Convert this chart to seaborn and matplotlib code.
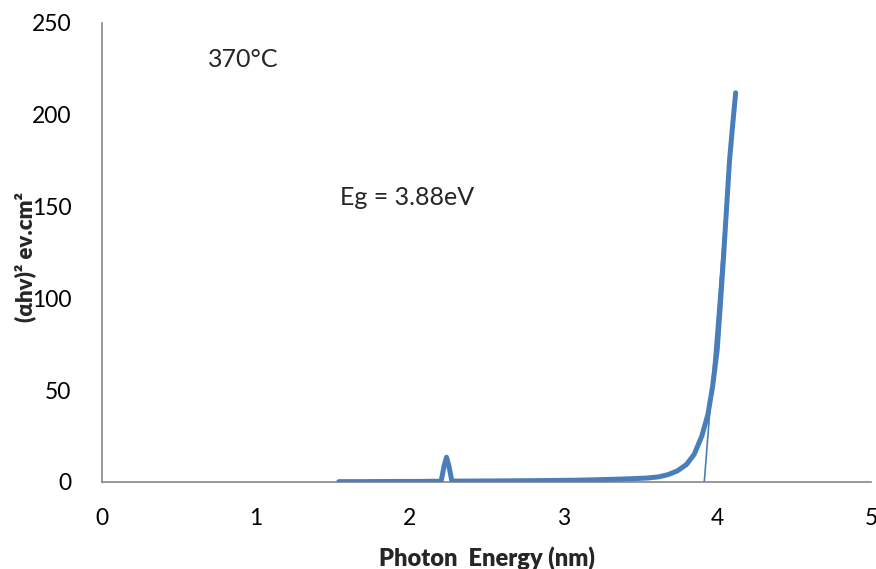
import numpy as np
import matplotlib.pyplot as plt
import pandas as pd
import seaborn as sns

# photon energy (eV) and (alpha h nu)^2
energy = [1.54, 1.70, 1.90, 2.05, 2.15, 2.205, 2.225, 2.24, 2.255, 2.275, 2.35,
          2.60, 2.90, 3.10, 3.30, 3.45, 3.55, 3.62, 3.68, 3.74, 3.80, 3.85,
          3.90, 3.94, 3.97, 4.00, 4.02, 4.04, 4.06, 4.08, 4.10, 4.12]
absorb = [0.2, 0.2, 0.3, 0.3, 0.4, 0.4, 9.0, 13.5, 9.0, 0.5, 0.5,
          0.6, 0.8, 1.0, 1.4, 1.8, 2.2, 2.8, 4.0, 6.0, 9.5, 15.0,
          25.0, 37.0, 52.0, 72.0, 96.0, 121.0, 148.0, 175.0, 194.0, 212.0]

# linear fit for the band gap
fit_x = [3.915, 4.115]
fit_y = [-1.0, 212.0]

tick_x = [0, 1, 2, 3, 4, 5]
tick_y = [0, 50, 100, 150, 200, 250]

df = pd.DataFrame({'energy': energy, 'absorb': absorb})

sns.set_style('white')
plt.rcParams['font.family'] = ['Lato', 'DejaVu Sans']

fig = plt.figure(figsize=(8.76, 5.69), dpi=100)
ax = fig.add_axes([0.1164, 0.1529, 0.8779, 0.8067])

blue = '#4A7EBB'
grey = '#868686'

ax.plot(fit_x, fit_y, color=blue, lw=1.2, zorder=2)
sns.lineplot(data=df, x='energy', y='absorb', sort=False, color=blue, lw=3.6,
             solid_capstyle='round', solid_joinstyle='round', ax=ax, zorder=3)

ax.set_xlim(0, 5)
ax.set_ylim(0, 250)
ax.set_xticks(tick_x)
ax.set_yticks(tick_y)
ax.tick_params(axis='both', direction='out', length=5, width=1, color=grey,
               labelsize=16.5, labelcolor='black')
ax.tick_params(axis='y', pad=17)
ax.tick_params(axis='x', pad=14)

for side in ['top', 'right']:
    ax.spines[side].set_visible(False)
for side in ['left', 'bottom']:
    ax.spines[side].set_color(grey)
    ax.spines[side].set_linewidth(1.2)

ax.set_xlabel('Photon  Energy (nm)', fontsize=17, fontweight='heavy', labelpad=12)
ax.set_ylabel('(\u03b1hv)\u00b2 ev.cm\u00b2', fontsize=16, fontweight='heavy')
ax.yaxis.set_label_coords(-0.086, 0.49)

ax.text(0.69, 230, '370\u00b0C', fontsize=18, va='center', ha='left')
ax.text(1.55, 155, 'Eg = 3.88eV', fontsize=18, va='center', ha='left')

plt.savefig('out.png', dpi=100)
